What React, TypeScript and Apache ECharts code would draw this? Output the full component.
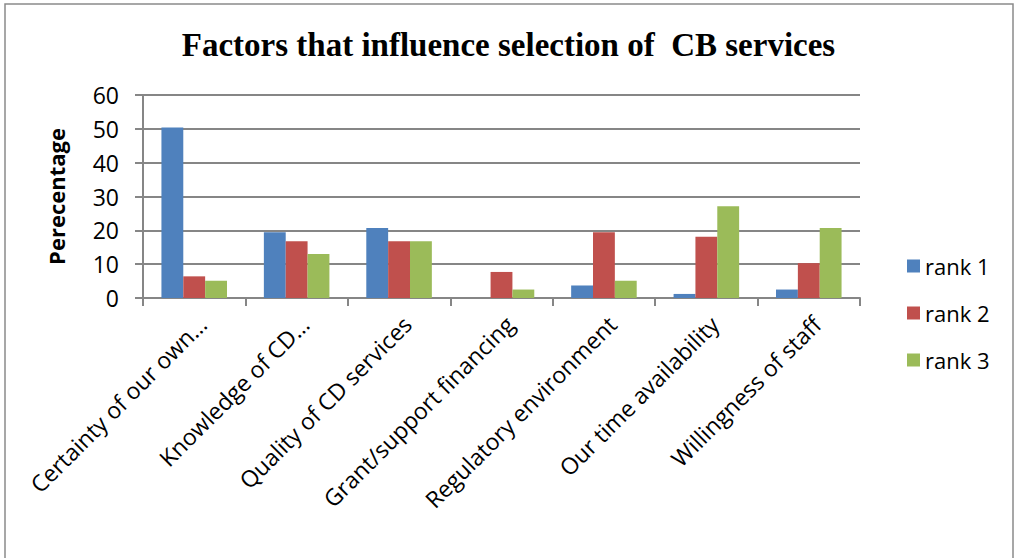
import React, { useEffect, useRef } from "react";
import * as echarts from "echarts";

const categories = [
  "Certainty of our own…",
  "Knowledge of CD…",
  "Quality of CD services",
  "Grant/support financing",
  "Regulatory environment",
  "Our time availability",
  "Willingness of staff",
];
const rank1 = [50.4, 19.4, 20.7, 0, 3.7, 1.2, 2.5];
const rank2 = [6.4, 16.8, 16.8, 7.7, 19.4, 18.1, 10.3];
const rank3 = [5.1, 13.0, 16.8, 2.5, 5.1, 27.1, 20.7];
const seriesNames = ["rank 1", "rank 2", "rank 3"];
const colors = ["#4F81BD", "#C0504D", "#9BBB59"];
const yTicks = { min: 0, max: 60, interval: 10 };

const FONT = "Open Sans";

export default function App() {
  const ref = useRef<HTMLDivElement>(null);
  useEffect(() => {
    if (!ref.current) return;
    const chart = echarts.init(ref.current, undefined, { renderer: "svg" });
    const data = [rank1, rank2, rank3];
    chart.setOption({
      animation: false,
      backgroundColor: "#ffffff",
      title: {
        text: "Factors that influence selection of  CB services",
        left: "center",
        top: 23,
        textStyle: {
          fontFamily: "Liberation Serif",
          fontWeight: "bold",
          fontSize: 33,
          color: "#000",
        },
      },
      graphic: [
        {
          type: "rect",
          shape: { x: 5, y: 4, width: 1008, height: 600 },
          style: { fill: "none", stroke: "#8a8a8a", lineWidth: 1.5 },
          silent: true,
        },
      ],
      legend: {
        orient: "vertical",
        left: 902,
        top: 250,
        itemWidth: 13,
        itemHeight: 13,
        itemGap: 25,
        icon: "rect",
        textStyle: { fontFamily: FONT, fontSize: 22, color: "#000", lineHeight: 22 },
        data: seriesNames,
      },
      grid: { left: 143, right: 157, top: 95, bottom: 260, containLabel: false },
      xAxis: {
        type: "category",
        data: categories,
        axisLine: { lineStyle: { color: "#868686", width: 2 } },
        axisTick: { show: true, length: 8, lineStyle: { color: "#868686", width: 2 } },
        axisLabel: {
          interval: 0,
          rotate: 45,
          margin: 14,
          verticalAlign: "top",
          fontFamily: FONT,
          fontSize: 23,
          color: "#000",
        },
      },
      yAxis: {
        type: "value",
        min: yTicks.min,
        max: yTicks.max,
        interval: yTicks.interval,
        name: "Perecentage",
        nameLocation: "middle",
        nameRotate: 90,
        nameGap: 76,
        nameTextStyle: { fontFamily: FONT, fontSize: 22, fontWeight: "bold", color: "#000" },
        axisLine: { show: true, lineStyle: { color: "#868686", width: 2 } },
        axisTick: { show: true, length: 8, lineStyle: { color: "#868686", width: 2 } },
        axisLabel: { fontFamily: FONT, fontSize: 23, color: "#000", margin: 24 },
        splitLine: { lineStyle: { color: "#868686", width: 2 } },
      },
      series: seriesNames.map((name, i) => ({
        name,
        type: "bar",
        data: data[i],
        barGap: "0%",
        barCategoryGap: "36%",
        itemStyle: { color: colors[i] },
      })),
    });
    return () => chart.dispose();
  }, []);
  return (
    <div
      ref={ref}
      style={{ position: "fixed", left: 0, top: 0, width: 1017, height: 558 }}
    />
  );
}
